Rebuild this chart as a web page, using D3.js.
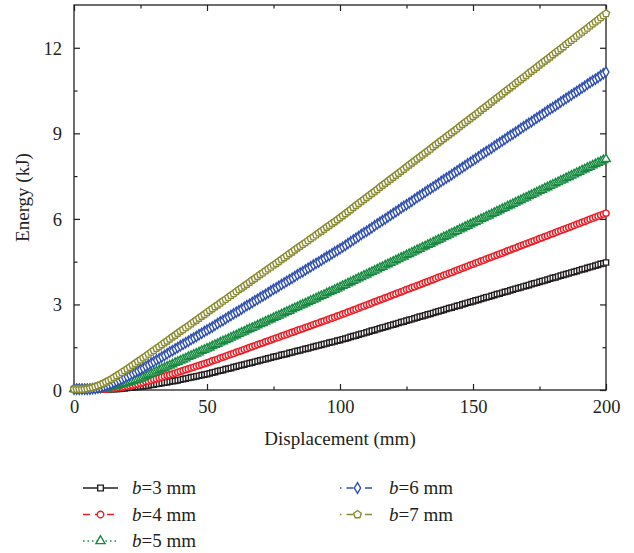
<!DOCTYPE html>
<html lang="en">
<head>
<meta charset="UTF-8">
<title>Energy vs displacement</title>
<script src="https://cdn.jsdelivr.net/npm/d3@7"></script>
<style>
  body { margin: 0; background: #fff; overflow: hidden; }
  text { font-family: "Liberation Serif", "DejaVu Serif", serif; fill: #231f20; }
</style>
</head>
<body>
<script>
// displacement (mm), one sample per mm
const disp = d3.range(0, 201);

// energy (kJ)
const b3 = [0.03,0.03,0.03,0.03,0.03,0.03,0.03,0.03,0.03,0.03,0.03,0.03,0.03,0.03,0.03,0.03,
  0.04,0.04,0.05,0.06,0.07,0.08,0.09,0.10,0.11,0.12,
  0.13,0.15,0.16,0.18,0.19,0.21,0.22,0.24,0.26,0.27,0.29,0.31,0.32,0.34,0.36,0.38,0.40,0.42,0.44,0.46,0.48,0.50,0.52,0.54,0.56,
  0.58,0.61,0.63,0.66,0.68,0.70,0.73,0.75,0.77,0.80,0.82,0.85,0.87,0.89,0.92,0.94,0.96,0.99,1.01,1.04,1.06,1.08,1.11,1.13,1.16,
  1.18,1.20,1.23,1.25,1.27,1.30,1.32,1.35,1.37,1.39,1.42,1.44,1.46,1.49,1.51,1.54,1.56,1.58,1.61,1.63,1.66,1.68,1.70,1.73,1.75,
  1.78,1.80,1.83,1.86,1.89,1.91,1.94,1.97,1.99,2.02,2.05,2.08,2.10,2.13,2.16,2.19,2.21,2.24,2.27,2.29,2.32,2.35,2.38,2.40,2.43,
  2.46,2.48,2.51,2.54,2.57,2.59,2.62,2.65,2.67,2.70,2.73,2.76,2.78,2.81,2.84,2.87,2.89,2.92,2.95,2.97,3.00,3.03,3.06,3.08,3.11,
  3.14,3.16,3.19,3.22,3.25,3.27,3.30,3.33,3.36,3.38,3.41,3.44,3.46,3.49,3.52,3.55,3.57,3.60,3.63,3.65,3.68,3.71,3.74,3.76,3.79,
  3.82,3.84,3.87,3.90,3.93,3.95,3.98,4.01,4.04,4.06,4.09,4.12,4.14,4.17,4.20,4.23,4.25,4.28,4.31,4.33,4.36,4.39,4.42,4.44,4.47];

const b4 = [0.03,0.03,0.03,0.03,0.03,0.03,0.03,0.03,0.03,0.03,0.03,0.03,0.03,
  0.04,0.05,0.06,0.07,0.08,0.10,0.11,0.13,0.15,0.17,0.19,0.21,0.24,
  0.26,0.29,0.31,0.34,0.37,0.39,0.42,0.45,0.48,0.51,0.53,0.56,0.59,0.62,0.65,0.68,0.71,0.74,0.77,0.80,0.83,0.86,0.89,0.92,0.95,
  0.98,1.02,1.05,1.08,1.12,1.15,1.18,1.22,1.25,1.28,1.32,1.35,1.38,1.42,1.45,1.49,1.52,1.55,1.59,1.62,1.65,1.69,1.72,1.75,1.79,
  1.82,1.85,1.89,1.92,1.95,1.99,2.02,2.05,2.09,2.12,2.15,2.19,2.22,2.25,2.29,2.32,2.35,2.39,2.42,2.45,2.49,2.52,2.55,2.59,2.62,
  2.66,2.69,2.73,2.76,2.80,2.83,2.87,2.91,2.94,2.98,3.01,3.05,3.09,3.12,3.16,3.19,3.23,3.26,3.30,3.34,3.37,3.41,3.44,3.48,3.52,
  3.55,3.59,3.62,3.66,3.69,3.73,3.77,3.80,3.84,3.87,3.91,3.95,3.98,4.02,4.05,4.09,4.12,4.16,4.20,4.23,4.27,4.30,4.34,4.38,4.41,
  4.45,4.48,4.52,4.55,4.59,4.63,4.66,4.70,4.73,4.77,4.80,4.84,4.88,4.91,4.95,4.98,5.02,5.06,5.09,5.13,5.16,5.20,5.23,5.27,5.31,
  5.34,5.38,5.41,5.45,5.48,5.52,5.56,5.59,5.63,5.66,5.70,5.73,5.77,5.81,5.84,5.88,5.91,5.95,5.99,6.02,6.06,6.09,6.13,6.16,6.20];

const b5 = [0.03,0.03,0.03,0.03,0.03,0.03,0.03,0.03,0.03,0.03,
  0.04,0.05,0.07,0.09,0.11,0.13,0.15,0.18,0.20,0.23,0.25,0.28,0.31,0.34,0.37,0.40,
  0.44,0.48,0.53,0.57,0.61,0.65,0.69,0.74,0.78,0.82,0.86,0.90,0.95,0.99,1.03,1.07,1.11,1.16,1.20,1.24,1.28,1.32,1.37,1.41,1.45,
  1.49,1.54,1.58,1.62,1.67,1.71,1.75,1.79,1.84,1.88,1.92,1.97,2.01,2.05,2.10,2.14,2.18,2.22,2.27,2.31,2.35,2.40,2.44,2.48,2.53,
  2.57,2.61,2.65,2.70,2.74,2.78,2.83,2.87,2.91,2.96,3.00,3.04,3.08,3.13,3.17,3.21,3.26,3.30,3.34,3.39,3.43,3.47,3.51,3.56,3.60,
  3.65,3.69,3.74,3.78,3.83,3.87,3.92,3.96,4.01,4.05,4.10,4.14,4.19,4.23,4.28,4.32,4.37,4.41,4.46,4.50,4.55,4.59,4.64,4.68,4.73,
  4.77,4.82,4.86,4.91,4.95,5.00,5.04,5.09,5.13,5.18,5.22,5.27,5.31,5.36,5.40,5.45,5.49,5.54,5.58,5.63,5.67,5.72,5.76,5.81,5.85,
  5.90,5.94,5.99,6.03,6.08,6.12,6.17,6.21,6.26,6.30,6.35,6.39,6.44,6.48,6.53,6.57,6.62,6.66,6.71,6.75,6.80,6.84,6.89,6.93,6.98,
  7.02,7.07,7.11,7.16,7.20,7.25,7.29,7.34,7.38,7.43,7.47,7.52,7.56,7.61,7.65,7.70,7.74,7.79,7.83,7.88,7.92,7.97,8.01,8.06,8.10];

const b6 = [0.03,0.03,0.03,0.03,0.03,0.03,0.03,
  0.04,0.05,0.07,0.09,0.12,0.15,0.18,0.22,0.26,0.30,0.34,0.38,0.43,0.47,0.52,0.57,0.62,0.67,0.72,
  0.77,0.83,0.88,0.94,0.99,1.05,1.10,1.16,1.21,1.27,1.33,1.38,1.44,1.49,1.55,1.60,1.66,1.71,1.77,1.82,1.88,1.94,1.99,2.05,2.10,
  2.16,2.21,2.27,2.33,2.39,2.44,2.50,2.56,2.61,2.67,2.73,2.78,2.84,2.90,2.96,3.01,3.07,3.13,3.18,3.24,3.30,3.35,3.41,3.47,3.53,
  3.58,3.64,3.70,3.75,3.81,3.87,3.92,3.98,4.04,4.10,4.15,4.21,4.27,4.32,4.38,4.44,4.49,4.55,4.61,4.67,4.72,4.78,4.84,4.89,4.95,
  5.01,5.07,5.14,5.20,5.26,5.32,5.38,5.45,5.51,5.57,5.63,5.69,5.76,5.82,5.88,5.94,6.00,6.07,6.13,6.19,6.25,6.31,6.38,6.44,6.50,
  6.56,6.62,6.69,6.75,6.81,6.87,6.93,7.00,7.06,7.12,7.18,7.24,7.31,7.37,7.43,7.49,7.55,7.62,7.68,7.74,7.80,7.86,7.93,7.99,8.05,
  8.11,8.17,8.24,8.30,8.36,8.42,8.48,8.55,8.61,8.67,8.73,8.79,8.86,8.92,8.98,9.04,9.10,9.17,9.23,9.29,9.35,9.41,9.48,9.54,9.60,
  9.66,9.72,9.79,9.85,9.91,9.97,10.03,10.10,10.16,10.22,10.28,10.34,10.41,10.47,10.53,10.59,10.65,10.72,10.78,10.84,10.90,10.96,11.03,11.09,11.15];

const b7 = [0.03,0.03,0.03,0.03,0.04,
  0.05,0.07,0.09,0.12,0.15,0.19,0.23,0.28,0.33,0.38,0.44,0.50,0.56,0.62,0.68,0.74,0.80,0.87,0.93,1.00,1.06,
  1.13,1.19,1.26,1.33,1.39,1.46,1.52,1.59,1.66,1.72,1.79,1.86,1.92,1.99,2.06,2.12,2.19,2.25,2.32,2.39,2.45,2.52,2.59,2.65,2.72,
  2.79,2.85,2.92,2.98,3.05,3.12,3.18,3.25,3.32,3.38,3.45,3.52,3.58,3.65,3.71,3.78,3.85,3.91,3.98,4.05,4.11,4.18,4.25,4.31,4.38,
  4.44,4.51,4.58,4.64,4.71,4.78,4.84,4.91,4.98,5.04,5.11,5.17,5.24,5.31,5.37,5.44,5.51,5.57,5.64,5.71,5.77,5.84,5.90,5.97,6.04,
  6.11,6.18,6.25,6.32,6.40,6.47,6.54,6.61,6.68,6.75,6.82,6.89,6.96,7.03,7.11,7.18,7.25,7.32,7.39,7.46,7.53,7.60,7.67,7.74,7.82,
  7.89,7.96,8.03,8.10,8.17,8.24,8.31,8.38,8.45,8.53,8.60,8.67,8.74,8.81,8.88,8.95,9.02,9.09,9.16,9.24,9.31,9.38,9.45,9.52,9.59,
  9.66,9.73,9.81,9.88,9.95,10.02,10.10,10.17,10.24,10.31,10.38,10.46,10.53,10.60,10.67,10.75,10.82,10.89,10.96,11.03,11.11,11.18,11.25,11.32,11.40,
  11.47,11.54,11.61,11.68,11.76,11.83,11.90,11.97,12.04,12.12,12.19,12.26,12.33,12.41,12.48,12.55,12.62,12.69,12.77,12.84,12.91,12.98,13.06,13.13,13.20];

const seriesNames = ["3", "4", "5", "6", "7"];
const xTicks = [0, 50, 100, 150, 200];
const yTicks = [0, 3, 6, 9, 12];

const pentagon = {
  draw(ctx, size) {
    const r = Math.sqrt(size / 2.38);
    for (let i = 0; i < 5; i++) {
      const a = -Math.PI / 2 + i * 2 * Math.PI / 5;
      const px = r * Math.cos(a), py = r * Math.sin(a);
      if (i === 0) ctx.moveTo(px, py); else ctx.lineTo(px, py);
    }
    ctx.closePath();
  }
};

const series = [
  {name: seriesNames[0], values: b3, color: "#231f20", symbol: d3.symbolSquare, size: 28, dash: null},
  {name: seriesNames[1], values: b4, color: "#ed1c24", symbol: d3.symbolCircle, size: 30, dash: "7,5"},
  {name: seriesNames[2], values: b5, color: "#178a40", symbol: d3.symbolTriangle, size: 32, dash: "1.5,3"},
  {name: seriesNames[3], values: b6, color: "#2f4fae", symbol: d3.symbolDiamond, size: 30, dash: "1.5,5,7,5"},
  {name: seriesNames[4], values: b7, color: "#8a8a32", symbol: pentagon, size: 34, dash: "1.5,5,7,5"}
];

const W = 634, H = 553;
const margin = {left: 74, right: 28, top: 5, bottom: 163};

const svg = d3.select("body").append("svg")
  .attr("width", W).attr("height", H);

const x = d3.scaleLinear().domain([0, 200]).range([margin.left, W - margin.right]);
const y = d3.scaleLinear().domain([0, 13.5]).range([H - margin.bottom, margin.top]);

const ink = "#231f20";

// ticks pointing inwards
function ticks(axis, scale, vals) {
  const g = svg.append("g").attr("transform", axis.t).call(
    axis.make(scale).tickValues(vals).tickSize(axis.len).tickFormat(axis.fmt || (() => ""))
  );
  g.select(".domain").remove();
  g.selectAll(".tick line").attr("stroke", ink).attr("stroke-width", 1.2);
  g.selectAll(".tick text").attr("font-size", 18.5).attr("fill", ink);
  return g;
}

const xMinor = [25, 75, 125, 175];
const yMinor = [1.5, 4.5, 7.5, 10.5];
const pB = y(0), pT = y(13.5), pL = x(0), pR = x(200);

const gb = ticks({t: `translate(0,${pB})`, make: d3.axisBottom, len: -6, fmt: d3.format("d")}, x, xTicks);
gb.selectAll(".tick text").attr("y", 23).attr("dy", 0);
ticks({t: `translate(0,${pB})`, make: d3.axisBottom, len: -3.5}, x, xMinor);
ticks({t: `translate(0,${pT})`, make: d3.axisTop, len: -6}, x, xTicks);
ticks({t: `translate(0,${pT})`, make: d3.axisTop, len: -3.5}, x, xMinor);

const gl = ticks({t: `translate(${pL},0)`, make: d3.axisLeft, len: -6, fmt: d3.format("d")}, y, yTicks);
gl.selectAll(".tick text").attr("x", -12).attr("dy", "0.35em");
ticks({t: `translate(${pL},0)`, make: d3.axisLeft, len: -3.5}, y, yMinor);
ticks({t: `translate(${pR},0)`, make: d3.axisRight, len: -6}, y, yTicks);
ticks({t: `translate(${pR},0)`, make: d3.axisRight, len: -3.5}, y, yMinor);

// frame
svg.append("rect")
  .attr("x", pL).attr("y", pT)
  .attr("width", pR - pL).attr("height", pB - pT)
  .attr("fill", "none").attr("stroke", ink).attr("stroke-width", 1.3);

// curves
const line = d3.line().x((d, i) => x(disp[i])).y(d => y(d));
series.forEach(s => {
  const g = svg.append("g");
  g.append("path").attr("d", line(s.values))
    .attr("fill", "none").attr("stroke", s.color).attr("stroke-width", 1)
    .attr("stroke-dasharray", s.dash);
  g.selectAll("path.m").data(s.values).join("path")
    .attr("class", "m")
    .attr("transform", (d, i) => `translate(${x(disp[i])},${y(d)})`)
    .attr("d", d3.symbol(s.symbol, s.size))
    .attr("fill", "#fff").attr("stroke", s.color).attr("stroke-width", 1.4);
});

// axis titles
svg.append("text")
  .attr("x", (pL + pR) / 2).attr("y", pB + 55)
  .attr("text-anchor", "middle").attr("font-size", 19)
  .text("Displacement (mm)");

svg.append("text")
  .attr("transform", `translate(29,${(pT + pB) / 2}) rotate(-90)`)
  .attr("text-anchor", "middle").attr("font-size", 19)
  .text("Energy (kJ)");

// legend
const legPos = [[83, 488], [83, 514.5], [83, 541], [340, 488], [340, 514.5]];
series.forEach((s, i) => {
  const [lx, ly] = legPos[i];
  const g = svg.append("g").attr("transform", `translate(${lx},${ly})`);
  g.append("line").attr("x1", 0).attr("x2", 35).attr("y1", 0).attr("y2", 0)
    .attr("stroke", s.color).attr("stroke-width", 1.3)
    .attr("stroke-dasharray", s.dash);
  g.append("path").attr("transform", "translate(17.5,0)")
    .attr("d", d3.symbol(s.symbol, s.size + 4))
    .attr("fill", "#fff").attr("stroke", s.color).attr("stroke-width", 1.4);
  const t = g.append("text").attr("x", 49).attr("y", 6).attr("font-size", 19);
  t.append("tspan").attr("font-style", "italic").text("b");
  t.append("tspan").text("=" + s.name + " mm");
});
</script>
</body>
</html>
